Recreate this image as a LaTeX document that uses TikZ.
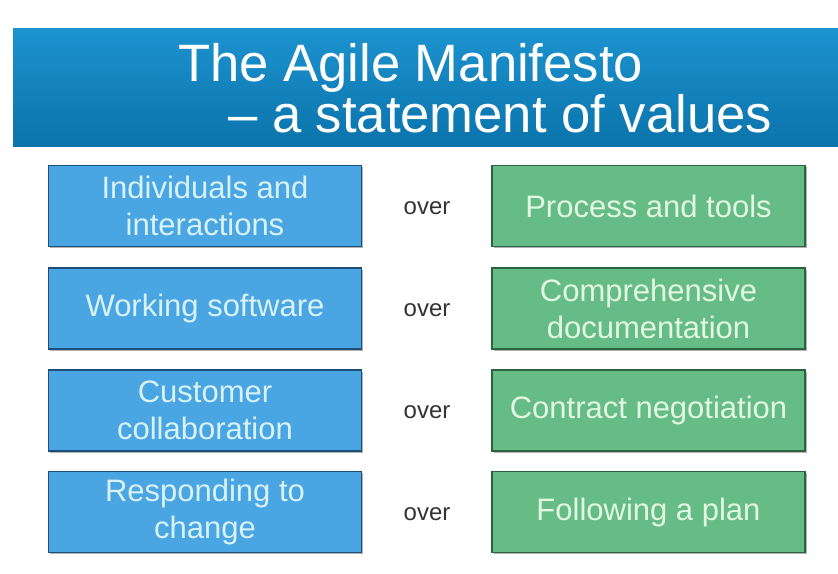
\documentclass[tikz,border=0pt]{standalone}
\usepackage{fontspec}
\setmainfont{Liberation Sans}
\usetikzlibrary{shadows}
\definecolor{bannertop}{HTML}{1C93CF}
\definecolor{bannerbot}{HTML}{0B73AB}
\definecolor{bluefill}{HTML}{4AA6E2}
\definecolor{blueedge}{HTML}{1E4F7C}
\definecolor{bluetext}{HTML}{D9F2FA}
\definecolor{greenfill}{HTML}{66BC86}
\definecolor{greenedge}{HTML}{2C6340}
\definecolor{greentext}{HTML}{E2F8E0}
\definecolor{overtext}{HTML}{333333}
\begin{document}
\begin{tikzpicture}[x=1pt,y=-1pt,
  valbox/.style={minimum width=313pt, minimum height=81pt, inner sep=0pt,
    align=center, font=\fontsize{31}{37}\selectfont, line width=1.4pt,
    drop shadow={shadow xshift=1.5pt, shadow yshift=-1.5pt, opacity=0.3, fill=black}},
  agilebox/.style={valbox, fill=bluefill, draw=blueedge, text=bluetext},
  tradbox/.style={valbox, fill=greenfill, draw=greenedge, text=greentext},
  overword/.style={font=\fontsize{24}{28}\selectfont, text=overtext, inner sep=0pt},
  titletext/.style={font=\fontsize{52.6}{44}\selectfont, text=white, inner sep=0pt, align=left}
]
\useasboundingbox (0,0) rectangle (838,573);
\fill[white] (0,0) rectangle (838,573);
\node[minimum width=825pt, minimum height=118pt, inner sep=0pt,
      top color=bannertop, bottom color=bannerbot, draw=none] (banner) at (425.5,87) {};
\node[titletext, anchor=base west] (title) at (178,132)
  {The Agile Manifesto\\\hspace*{50pt}– a statement of values};

\node[agilebox] (a1) at (205,206) {Individuals and\\interactions};
\node[agilebox] (a2) at (205,308.5) {Working software};
\node[agilebox] (a3) at (205,410.5) {Customer\\collaboration};
\node[agilebox] (a4) at (205,512) {Responding to\\change};

\node[overword] (o1) at (427,208) {over};
\node[overword] (o2) at (427,310) {over};
\node[overword] (o3) at (427,412) {over};
\node[overword] (o4) at (427,514) {over};

\node[tradbox] (t1) at (648.5,206) {Process and tools};
\node[tradbox] (t2) at (648.5,308.5) {Comprehensive\\documentation};
\node[tradbox] (t3) at (648.5,410.5) {Contract negotiation};
\node[tradbox] (t4) at (648.5,512) {Following a plan};
\end{tikzpicture}
\end{document}
